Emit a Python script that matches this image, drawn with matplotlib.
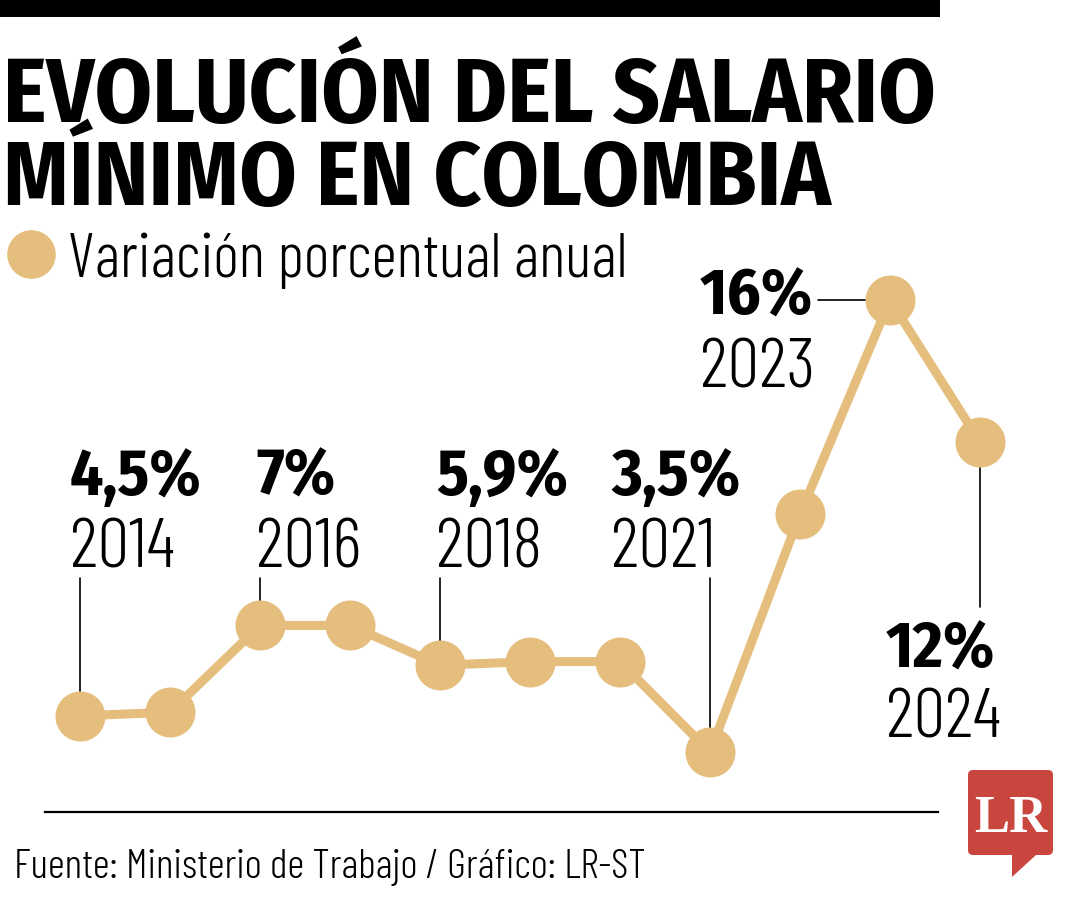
import matplotlib
matplotlib.use("Agg")
import matplotlib.pyplot as plt
from matplotlib.lines import Line2D
from matplotlib.patches import FancyBboxPatch, Polygon, Rectangle
from matplotlib.transforms import IdentityTransform, blended_transform_factory

# --- DATA ---
years = [2014, 2015, 2016, 2017, 2018, 2019, 2020, 2021, 2022, 2023, 2024]
variacion = [4.5, 4.6, 7.0, 7.0, 5.9, 6.0, 6.0, 3.5, 10.07, 16.0, 12.07]

label_years = [2014, 2016, 2018, 2021, 2023, 2024]
label_pcts = ["4,5%", "7%", "5,9%", "3,5%", "16%", "12%"]

title_lines = ["EVOLUCIÓN DEL SALARIO", "MÍNIMO EN COLOMBIA"]
subtitle = "Variación porcentual anual"
source = "Fuente: Ministerio de Trabajo / Gráfico: LR-ST"

GOLD = "#E5BE7D"
RED = "#C9463F"

# condensed faces, with a plain fallback
BOLD = ["Fira Sans Condensed", "Liberation Sans"]
LIGHT = ["Barlow Condensed", "Liberation Sans"]
SERIF = ["Liberation Serif", "DejaVu Serif"]

W, H = 1080, 900
fig = plt.figure(figsize=(W / 100, H / 100), dpi=100)
fig.patch.set_facecolor("white")


def fx(x):
    return x / W


def fy(y):
    return 1 - y / H


# axes over the whole canvas; limits chosen so years/values land in the chart area
ax = fig.add_axes([0, 0, 1, 1])
ax.set_xlim(2013.111, 2025.111)
ax.set_ylim(-0.593, 24.296)
ax.axis("off")

# top black bar
fig.add_artist(Rectangle((0, fy(17)), 940 / W, 17 / H, transform=fig.transFigure,
                         color="black", lw=0))

# title
fig.text(fx(3), fy(122), title_lines[0], fontsize=66, weight="bold",
         family=BOLD, va="baseline")
fig.text(fx(3), fy(205), title_lines[1], fontsize=66, weight="bold",
         family=BOLD, va="baseline")

# legend dot + subtitle
fig.add_artist(Line2D([fx(30.5)], [fy(253.5)], marker="o", markersize=35,
                      color=GOLD, markeredgewidth=0, transform=fig.transFigure))
fig.text(fx(68), fy(277), subtitle, fontsize=45, weight=300, family=LIGHT,
         va="baseline")

# series
ax.plot(years, variacion, color=GOLD, lw=6.5, marker="o", ms=36,
        markeredgewidth=0, solid_capstyle="round", zorder=3)

# annotations: (left x, pct baseline, year baseline) in pixels
label_pos = {
    2014: (70, 495, 567),
    2016: (256, 495, 567),
    2018: (436, 495, 567),
    2021: (611, 495, 567),
    2023: (700, 315, 388),
    2024: (886, 668, 738),
}
vals = dict(zip(years, variacion))
data_x_fig_y = blended_transform_factory(ax.transData, fig.transFigure)
fig_x_data_y = blended_transform_factory(fig.transFigure, ax.transData)
leader = dict(arrowstyle="-", lw=1.2, color="black", shrinkA=0, shrinkB=0)

for yr, pct in zip(label_years, label_pcts):
    lx, pb, yb = label_pos[yr]
    fig.text(fx(lx), fy(pb), pct, fontsize=47, weight="bold", family=BOLD,
             va="baseline")
    fig.text(fx(lx), fy(yb), str(yr), fontsize=51, weight=300, family=LIGHT,
             va="baseline")
    if yr == 2023:
        ax.annotate("", xy=(yr, vals[yr]), xytext=(fx(818), vals[yr]),
                    textcoords=fig_x_data_y, arrowprops=leader, zorder=1)
    elif yr == 2024:
        ax.annotate("", xy=(yr, vals[yr]), xytext=(yr, fy(607)),
                    textcoords=data_x_fig_y, arrowprops=leader, zorder=1)
    else:
        ax.annotate("", xy=(yr, vals[yr]), xytext=(yr, fy(578)),
                    textcoords=data_x_fig_y, arrowprops=leader, zorder=1)

# bottom rule
fig.add_artist(Line2D([fx(45), fx(938)], [fy(812), fy(812)], color="black",
                      lw=1.6, transform=fig.transFigure))

# source
fig.text(fx(14), fy(878), source, fontsize=30, weight=300, family=LIGHT,
         va="baseline")

# LR logo (display pixels, origin bottom-left)
fig.add_artist(FancyBboxPatch((968, H - 855), 85, 85,
                              boxstyle="round,pad=0,rounding_size=5",
                              transform=IdentityTransform(), color=RED, lw=0))
fig.add_artist(Polygon([(1012, H - 855), (1036, H - 855), (1012, H - 877)],
                       closed=True, transform=IdentityTransform(), color=RED, lw=0))
fig.text(fx(1011), fy(832), "LR", fontsize=38, weight="bold", family=SERIF,
         color="white", ha="center", va="baseline")

fig.savefig("out.png", dpi=100)
